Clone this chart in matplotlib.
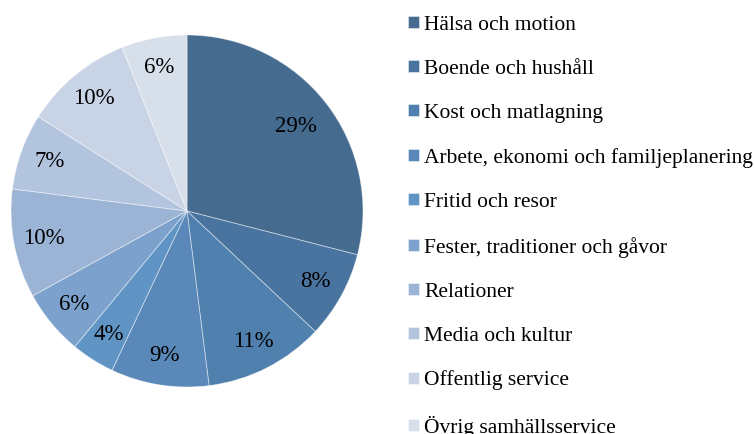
import matplotlib
matplotlib.use("Agg")
import matplotlib.pyplot as plt
import numpy as np

categories = ["Hälsa och motion", "Boende och hushåll", "Kost och matlagning",
              "Arbete, ekonomi och familjeplanering", "Fritid och resor",
              "Fester, traditioner och gåvor", "Relationer", "Media och kultur",
              "Offentlig service", "Övrig samhällsservice"]
values = [29, 8, 11, 9, 4, 6, 10, 7, 10, 6]
colors = ["#456B8F", "#4A74A0", "#5080AE", "#5A88B8", "#6094C4",
          "#7BA1CC", "#9BB4D5", "#B3C4DF", "#C8D3E5", "#D7DFEA"]

plt.rcParams['font.family'] = ['Liberation Serif', 'DejaVu Serif']

W, H = 754, 434
fig = plt.figure(figsize=(W/100, H/100), dpi=100)
cx, cy, r = 187, 211, 176
ax = fig.add_axes([(cx - r)/W, (H - cy - r)/H, 2*r/W, 2*r/H])
wedges, texts, autotexts = ax.pie(values, colors=colors, startangle=90, counterclock=False,
                                  autopct='%1.0f%%', pctdistance=0.83, radius=1,
                                  wedgeprops=dict(edgecolor=(1, 1, 1, 0.5), linewidth=0.6),
                                  textprops=dict(fontsize=16.5, color='black'))
# first (largest) label sits a bit closer to the centre
x0, y0 = autotexts[0].get_position()
autotexts[0].set_position((x0 * 0.78 / 0.83, y0 * 0.78 / 0.83))
ax.set_xlim(-1, 1)
ax.set_ylim(-1, 1)
ax.set_aspect('equal')
ax.axis('off')

fig.legend(wedges, categories, loc='upper left', bbox_to_anchor=(408/W, 1 - 16/H),
           frameon=False, fontsize=15.5, handlelength=0.5, handleheight=0.5,
           handletextpad=0.25, labelspacing=1.16, borderpad=0, borderaxespad=0)

fig.savefig("out.png", dpi=100)
